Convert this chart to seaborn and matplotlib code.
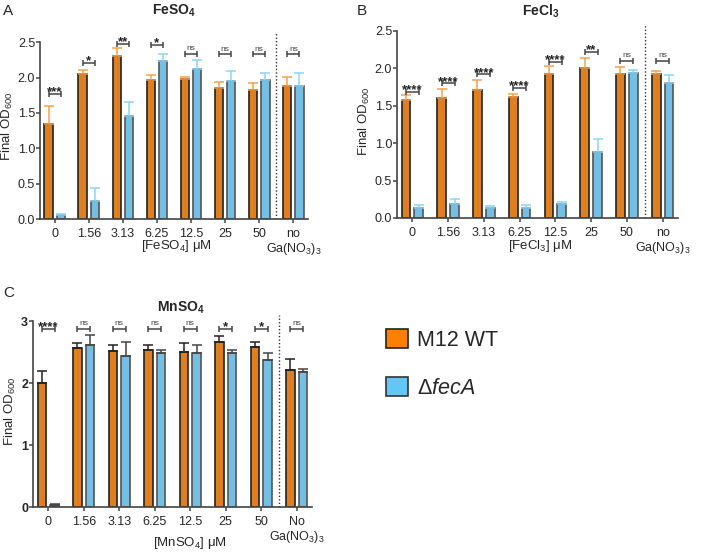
"""
Final OD600 of M12 WT vs delta-fecA with FeSO4 / FeCl3 / MnSO4 supplements
"""
import matplotlib
matplotlib.use('Agg')
import matplotlib.pyplot as plt
from matplotlib.patches import Patch
import numpy as np
import pandas as pd
import seaborn as sns

sns.set_theme(style='ticks')
plt.rcParams['font.family'] = ['Liberation Sans', 'DejaVu Sans']
plt.rcParams['mathtext.fontset'] = 'custom'
plt.rcParams['mathtext.rm'] = 'Liberation Sans'
plt.rcParams['mathtext.it'] = 'Liberation Sans:italic'
plt.rcParams['mathtext.bf'] = 'Liberation Sans:bold'

# data (mean, SD)
concs = ['0', '1.56', '3.13', '6.25', '12.5', '25', '50', 'no']
strains = ['M12 WT', 'dfecA']

fe_so4_wt = [1.34, 2.05, 2.30, 1.97, 1.98, 1.85, 1.82, 1.88]
fe_so4_wt_sd = [0.26, 0.05, 0.12, 0.06, 0.03, 0.09, 0.10, 0.13]
fe_so4_ko = [0.06, 0.26, 1.45, 2.24, 2.12, 1.95, 1.96, 1.88]
fe_so4_ko_sd = [0.01, 0.18, 0.21, 0.10, 0.13, 0.14, 0.10, 0.18]
fe_so4_sig = ['***', '*', '**', '*', 'ns', 'ns', 'ns', 'ns']
fe_so4_sig_y = [1.77, 2.21, 2.48, 2.46, 2.34, 2.33, 2.33, 2.33]

fe_cl3_wt = [1.58, 1.60, 1.71, 1.62, 1.92, 2.01, 1.92, 1.93]
fe_cl3_wt_sd = [0.06, 0.12, 0.13, 0.04, 0.11, 0.13, 0.10, 0.03]
fe_cl3_ko = [0.14, 0.19, 0.14, 0.14, 0.19, 0.885, 1.94, 1.81]
fe_cl3_ko_sd = [0.03, 0.06, 0.02, 0.03, 0.03, 0.175, 0.04, 0.10]
fe_cl3_sig = ['****', '****', '****', '****', '****', '**', 'ns', 'ns']
fe_cl3_sig_y = [1.69, 1.80, 1.92, 1.74, 2.09, 2.22, 2.10, 2.10]

mn_so4_wt = [2.01, 2.56, 2.52, 2.53, 2.50, 2.67, 2.58, 2.21]
mn_so4_wt_sd = [0.19, 0.09, 0.10, 0.09, 0.15, 0.09, 0.09, 0.18]
mn_so4_ko = [0.03, 2.61, 2.44, 2.48, 2.48, 2.48, 2.38, 2.18]
mn_so4_ko_sd = [0.02, 0.17, 0.23, 0.06, 0.13, 0.06, 0.10, 0.05]
mn_so4_sig = ['****', 'ns', 'ns', 'ns', 'ns', '*', '*', 'ns']
mn_so4_sig_y = [2.88] * 8

ORANGE = '#FF7F00'
BLUE = '#62C6F6'
palette = {'M12 WT': ORANGE, 'dfecA': BLUE}
edges = ['#222222', '#555555']


def panel(ax, wt, wt_sd, ko, ko_sd, sig, sig_y, ytop, ymax, yticks,
          title, xlabel, xlab_pos, last_lab, err_cols, bold_y=False,
          ytick_fmt='{:.1f}'):
    df = pd.DataFrame({
        'conc': concs * 2,
        'od': wt + ko,
        'strain': ['M12 WT'] * len(concs) + ['dfecA'] * len(concs),
    })
    sns.barplot(data=df, x='conc', y='od', hue='strain', order=concs,
                hue_order=strains, palette=palette, width=0.72, gap=0.32,
                errorbar=None, legend=False, linewidth=1.2, ax=ax)

    sds = [wt_sd, ko_sd]
    centers = []
    bar_conts = list(ax.containers)
    for i, cont in enumerate(bar_conts):
        xs, hs = [], []
        for p in cont.patches:
            p.set_edgecolor(edges[i])
            xs.append(p.get_x() + p.get_width() / 2)
            hs.append(p.get_height())
        centers.append(xs)
        ax.errorbar(xs, hs, yerr=[np.zeros(len(hs)), sds[i]], fmt='none',
                    ecolor=err_cols[i], elinewidth=1.1, capsize=3.3,
                    capthick=1.1, zorder=1)

    # significance brackets
    for j, (s, h) in enumerate(zip(sig, sig_y)):
        x1, x2 = centers[0][j], centers[1][j]
        ax.plot([x1, x2], [h, h], color='#444444', lw=1.1, marker='|',
                markersize=5, markeredgewidth=1.1, solid_capstyle='butt')
        if s == 'ns':
            ax.annotate(s, (np.mean([x1, x2]), h), xytext=(0, 2.5),
                        textcoords='offset points', ha='center',
                        va='baseline', fontsize=6, color='#444444')
        else:
            ax.annotate(s, (np.mean([x1, x2]), h), xytext=(0, -1.0),
                        textcoords='offset points', ha='center',
                        va='baseline', fontsize=9.5, fontweight='bold',
                        color='#222222')

    ax.axvline(6.5, ls=(0, (1, 1.5)), color='#333333', lw=1)
    ax.set_xlim(-0.43, 7.43)
    ax.set_ylim(0, ymax)
    ax.set_yticks(yticks)
    ax.set_yticklabels([ytick_fmt.format(v) for v in yticks], fontsize=9)
    if bold_y:
        for t in ax.get_yticklabels():
            t.set_fontweight('bold')
    ax.set_xticks(range(len(concs)))
    ax.set_xticklabels(concs[:-1] + [last_lab], fontsize=9, va='top',
                       linespacing=1.1)
    ax.tick_params(axis='both', length=3, width=1.1, color='#444444')
    ax.tick_params(axis='x', pad=3.5)
    ax.tick_params(axis='y', pad=0.5)
    sns.despine(ax=ax)
    for sp in ['left', 'bottom']:
        ax.spines[sp].set_color('#444444')
        ax.spines[sp].set_linewidth(1.2)
    ax.spines['left'].set_bounds(0, ytop)
    ax.set_xlabel('')
    ax.set_ylabel('Final OD$_{600}$', fontsize=9.5, labelpad=2)
    ax.text(xlab_pos[0], xlab_pos[1], xlabel, transform=ax.transAxes,
            ha='center', va='center', fontsize=9.5)
    ax.text(title[1], title[2], title[0], transform=ax.transAxes,
            ha='center', va='center', fontsize=10, fontweight='bold')


fig = plt.figure(figsize=(7.14, 5.53), dpi=100)
W, H = 714, 553
axA = fig.add_axes([40 / W, 1 - 219 / H, 268 / W, 186 / H])
axB = fig.add_axes([397 / W, 1 - 218 / H, 281 / W, 193 / H])
axC = fig.add_axes([33 / W, 1 - 507 / H, 279 / W, 192 / H])

panel(axA, fe_so4_wt, fe_so4_wt_sd, fe_so4_ko, fe_so4_ko_sd, fe_so4_sig,
      fe_so4_sig_y, 2.5, 2.63, [0, 0.5, 1.0, 1.5, 2.0, 2.5],
      ('FeSO$_\\mathbf{4}$', 0.5, 1.12), '[FeSO$_4$] \u03bcM', (0.51, -0.145),
      'no\nGa(NO$_3$)$_3$', ['#F9A04A', '#8AD5F7'])
panel(axB, fe_cl3_wt, fe_cl3_wt_sd, fe_cl3_ko, fe_cl3_ko_sd, fe_cl3_sig,
      fe_cl3_sig_y, 2.5, 2.58, [0, 0.5, 1.0, 1.5, 2.0, 2.5],
      ('FeCl$_\\mathbf{3}$', 0.51, 1.07), '[FeCl$_3$] \u03bcM', (0.51, -0.145),
      'no\nGa(NO$_3$)$_3$', ['#F9A04A', '#8AD5F7'])
panel(axC, mn_so4_wt, mn_so4_wt_sd, mn_so4_ko, mn_so4_ko_sd, mn_so4_sig,
      mn_so4_sig_y, 3, 3.1, [0, 1, 2, 3],
      ('MnSO$_\\mathbf{4}$', 0.53, 1.04), '[MnSO$_4$] \u03bcM', (0.563, -0.19),
      'No\nGa(NO$_3$)$_3$', ['#222222', '#444444'], bold_y=True,
      ytick_fmt='{:d}')

fig.text(3 / W, 1 - 11 / H, 'A', fontsize=11, va='center', ha='left')
fig.text(357 / W, 1 - 11 / H, 'B', fontsize=11, va='center', ha='left')
fig.text(3 / W, 1 - 293 / H, 'C', fontsize=11, va='center', ha='left')

handles = [Patch(facecolor=ORANGE, edgecolor='#222222', lw=1.2),
           Patch(facecolor=BLUE, edgecolor='#333333', lw=1.2)]
fig.legend(handles, ['M12 WT', '$\\Delta$$\\it{fecA}$'], loc='upper left',
           bbox_to_anchor=(386 / W, 1 - 329 / H), frameon=False,
           fontsize=15.5, handlelength=1.0, handleheight=1.0,
           handletextpad=0.45, labelspacing=1.2, borderpad=0,
           borderaxespad=0)

fig.savefig('out.png', dpi=100)
